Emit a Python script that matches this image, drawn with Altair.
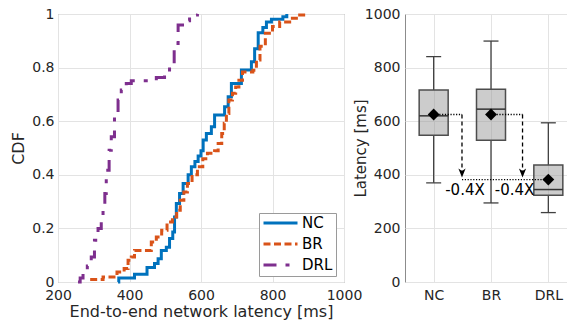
import altair as alt
import pandas as pd

# ---------------- data ----------------
series = ["NC", "BR", "DRL"]
series_colors = ["#0072BD", "#D95319", "#7E2F8E"]
series_dashes = [[1, 0], [7, 3.5], [13, 9, 4, 9]]

nc_latency = [368, 370, 414, 449, 470, 480, 489, 503, 512, 521, 526, 531, 540, 550, 564,
              573, 583, 592, 600, 606, 615, 629, 638, 666, 676, 685, 713, 741, 750, 760,
              773, 783, 797, 829, 840]
nc_cdf = [0.0, 0.015, 0.029, 0.054, 0.069, 0.087, 0.118, 0.13, 0.162, 0.187, 0.243, 0.293,
          0.33, 0.368, 0.40, 0.43, 0.45, 0.47, 0.49, 0.53, 0.554, 0.579, 0.623, 0.654, 0.691,
          0.741, 0.791, 0.822, 0.87, 0.93, 0.95, 0.97, 0.98, 0.99, 1.0]

br_latency = [290, 326, 365, 385, 396, 405, 414, 461, 475, 490, 505, 520, 532, 542, 552,
              562, 575, 590, 605, 618, 638, 648, 658, 665, 671, 678, 688, 697, 706, 716,
              745, 755, 765, 780, 800, 820, 848, 876, 895]
br_cdf = [0.009, 0.019, 0.037, 0.05, 0.081, 0.093, 0.118, 0.149, 0.168, 0.193, 0.224, 0.243,
          0.268, 0.305, 0.336, 0.368, 0.40, 0.43, 0.46, 0.48, 0.49, 0.517, 0.554, 0.592,
          0.629, 0.679, 0.704, 0.728, 0.753, 0.784, 0.79, 0.828, 0.88, 0.928, 0.953, 0.97,
          0.984, 0.996, 1.0]

drl_latency = [256, 262, 270, 282, 293, 302, 312, 321, 326, 331, 335, 343, 349, 358, 368,
               377, 391, 405, 475, 498, 512, 525, 536, 556, 568, 590]
drl_cdf = [0.0, 0.015, 0.031, 0.06, 0.093, 0.156, 0.2, 0.243, 0.274, 0.33, 0.417, 0.492,
           0.542, 0.616, 0.679, 0.716, 0.741, 0.751, 0.763, 0.791, 0.81, 0.89, 0.959, 0.975,
           0.996, 1.0]

box_pos = [1, 2, 3]
box_labels = ["NC", "BR", "DRL"]
whisker_low = [370, 295, 259]
q1 = [548, 529, 324]
median = [620, 645, 345]
q3 = [716, 719, 437]
whisker_high = [841, 899, 594]
mean = [625, 625, 382]

arrow_x = [1.494, 2.55]
arrow_from = [1, 2]
arrow_top = [625, 625]
arrow_tip = [390, 390]
level_y = [382]
level_x = [1.494]
level_x2 = [3]
note_x = [1.546, 2.41]
note_y = [345, 345]
note_text = ["-0.4X", "-0.4X"]

# ---------------- tables ----------------
rows = []
for name, lat, cdf in zip(series, [nc_latency, br_latency, drl_latency],
                          [nc_cdf, br_cdf, drl_cdf]):
    for a, b in zip(lat, cdf):
        rows.append({"series": name, "lat": a, "cdf": b})
cdf_df = pd.DataFrame(rows)

box_df = pd.DataFrame({"pos": box_pos, "label": box_labels, "lo": whisker_low, "q1": q1,
                       "med": median, "q3": q3, "hi": whisker_high, "mean": mean})
arrow_df = pd.DataFrame({"x": arrow_x, "x0": arrow_from, "top": arrow_top, "tip": arrow_tip})
level_df = pd.DataFrame({"x": level_x, "x2": level_x2, "y": level_y})
note_df = pd.DataFrame({"x": note_x, "y": note_y, "t": note_text})

FONT = "DejaVu Sans"
TXT = "#262626"
GRID = "#e3e3e3"

# ---------------- left: CDF ----------------
legend = alt.Legend(title=None, orient="none", legendX=201, legendY=199,
                    direction="vertical", fillColor="white", strokeColor="#9a9a9a",
                    padding=3, symbolType="stroke", symbolSize=1156, symbolStrokeWidth=3,
                    labelFontSize=15, labelColor="#000000", rowPadding=6, labelOffset=3,
                    clipHeight=14)

left = alt.Chart(cdf_df).mark_line(interpolate="step-after", strokeWidth=3).encode(
    x=alt.X("lat:Q", scale=alt.Scale(domain=[200, 1000], nice=False, padding=0),
            axis=alt.Axis(values=[200, 400, 600, 800, 1000], format="d",
                          title="End-to-end network latency [ms]",
                          titleFontSize=16, titlePadding=1, labelFlush=False, labelPadding=6)),
    y=alt.Y("cdf:Q", scale=alt.Scale(domain=[0, 1], nice=False, padding=0),
            axis=alt.Axis(values=[0, 0.2, 0.4, 0.6, 0.8, 1], format="~g", title="CDF",
                          titleFontSize=16, titlePadding=5, labelFlush=False, labelPadding=4)),
    color=alt.Color("series:N", scale=alt.Scale(domain=series, range=series_colors), legend=legend),
    strokeDash=alt.StrokeDash("series:N", scale=alt.Scale(domain=series, range=series_dashes),
                              legend=legend),
).properties(width=286, height=268)

# ---------------- right: box plot ----------------
xscale = alt.Scale(domain=[0.5, 3.5], nice=False, padding=0, zero=False)
yscale = alt.Scale(domain=[0, 1000], nice=False, padding=0)
xr = alt.X("pos:Q", scale=xscale,
           axis=alt.Axis(values=[1, 2, 3], labelExpr="['', 'NC', 'BR', 'DRL'][datum.value]",
                         title=None, labelFlush=False, labelPadding=6))
yr = alt.Y("lo:Q", scale=yscale,
           axis=alt.Axis(values=[0, 200, 400, 600, 800, 1000], format="d", title="Latency [ms]",
                         titleFontSize=15, titlePadding=-4, labelFlush=False, labelPadding=5))

def X(f):
    return alt.X(f, scale=xscale)

def Y(f):
    return alt.Y(f, scale=yscale)

base = alt.Chart(box_df)
whisk_lo = base.mark_rule(color="#404040", strokeWidth=1.3).encode(x=xr, y=yr, y2="q1:Q")
whisk_hi = base.mark_rule(color="#404040", strokeWidth=1.3).encode(x=X("pos:Q"), y=Y("q3:Q"), y2="hi:Q")
cap_lo = base.mark_tick(orient="horizontal", size=15, thickness=1.3, color="#404040", opacity=1).encode(
    x=X("pos:Q"), y=Y("lo:Q"))
cap_hi = base.mark_tick(orient="horizontal", size=15, thickness=1.3, color="#404040", opacity=1).encode(
    x=X("pos:Q"), y=Y("hi:Q"))
boxes = base.mark_bar(size=29, fill="#999999", fillOpacity=0.5, stroke="#4d4d4d",
                      strokeWidth=1.5).encode(x=X("pos:Q"), y=Y("q1:Q"), y2="q3:Q")
meds = base.mark_tick(orient="horizontal", size=29, thickness=1.5, color="#333333", opacity=1).encode(
    x=X("pos:Q"), y=Y("med:Q"))

dot_top = alt.Chart(arrow_df).mark_rule(color="#000000", strokeWidth=1.3, strokeDash=[1.2, 1.6]).encode(
    x=X("x0:Q"), x2="x:Q", y=Y("top:Q"))
dash_v = alt.Chart(arrow_df).mark_rule(color="#000000", strokeWidth=1.3, strokeDash=[4, 3]).encode(
    x=X("x:Q"), y=Y("top:Q"), y2="tip:Q")
dot_level = alt.Chart(level_df).mark_rule(color="#000000", strokeWidth=1.3, strokeDash=[1.2, 1.6]).encode(
    x=X("x:Q"), x2="x2:Q", y=Y("y:Q"))
heads = alt.Chart(arrow_df).mark_point(shape="M-0.8,-1L0,1L0.8,-1L0,-0.45Z", filled=True,
                                       color="#000000", size=81, opacity=1, yOffset=-4.5).encode(
    x=X("x:Q"), y=Y("tip:Q"))
means = base.mark_point(shape="diamond", filled=True, color="#000000", size=140, opacity=1).encode(
    x=X("pos:Q"), y=Y("mean:Q"))
notes = alt.Chart(note_df).mark_text(fontSize=15, color="#000000", font=FONT, align="center",
                                     baseline="middle").encode(x=X("x:Q"), y=Y("y:Q"), text="t:N")

right = alt.layer(whisk_lo, whisk_hi, cap_lo, cap_hi, boxes, meds, dot_top, dash_v, dot_level,
                  heads, means, notes).properties(width=172, height=268)

chart = alt.HConcatChart(hconcat=[left, right], spacing=61, bounds="flush").properties(
    padding={"left": 2, "top": -2, "right": -11, "bottom": 0}
).configure(font=FONT).configure_view(stroke="#8c8c8c", strokeWidth=1).configure_axis(
    labelFont=FONT, titleFont=FONT, labelFontSize=14, labelColor=TXT, titleColor=TXT,
    titleFontWeight="normal", grid=True, gridColor=GRID, gridWidth=1, domain=False,
    ticks=False, labelOverlap=False
).configure_legend(labelFont=FONT)

chart.save("out.html", embed_options={"renderer": "svg", "actions": False})
